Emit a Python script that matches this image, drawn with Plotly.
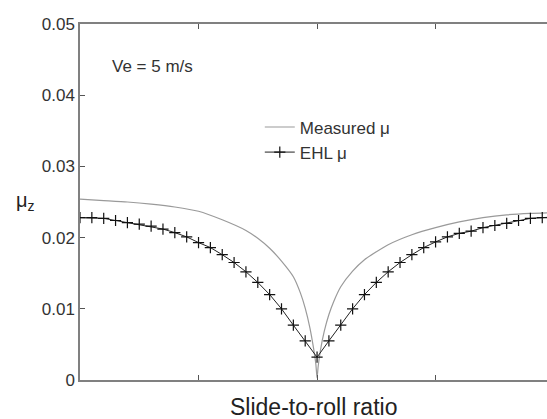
import plotly.graph_objects as go

# Measured friction coefficient
meas_x = [-1.0, -0.9, -0.8, -0.7, -0.6, -0.5, -0.4, -0.3, -0.25, -0.2, -0.15, -0.1,
          -0.07, -0.05, -0.03, -0.015, -0.005, 0.0, 0.005, 0.015, 0.03, 0.05, 0.07,
          0.1, 0.15, 0.2, 0.25, 0.3, 0.4, 0.5, 0.6, 0.7, 0.8, 0.9, 1.0]
meas_y = [0.0254, 0.0252, 0.0250, 0.0247, 0.0243, 0.0237, 0.0225, 0.0210, 0.0199, 0.0185,
          0.0167, 0.0145, 0.0122, 0.0101, 0.0073, 0.0045, 0.0022, 0.0003, 0.0020, 0.0043,
          0.0068, 0.0092, 0.0110, 0.0131, 0.0153, 0.0169, 0.0180, 0.0190, 0.0204, 0.0214,
          0.0222, 0.0228, 0.0232, 0.0234, 0.0235]

# EHL friction coefficient
ehl_x = [-1.0, -0.95, -0.9, -0.85, -0.8, -0.75, -0.7, -0.65, -0.6, -0.55, -0.5, -0.45,
         -0.4, -0.35, -0.3, -0.25, -0.2, -0.15, -0.1, -0.05, 0.0, 0.05, 0.1, 0.15, 0.2,
         0.25, 0.3, 0.35, 0.4, 0.45, 0.5, 0.55, 0.6, 0.65, 0.7, 0.75, 0.8, 0.85, 0.9,
         0.95, 1.0]
ehl_y = [0.0228, 0.0228, 0.0227, 0.0224, 0.0221, 0.0219, 0.0216, 0.0212, 0.0207, 0.0201,
         0.0193, 0.0186, 0.0176, 0.0165, 0.0152, 0.0137, 0.0120, 0.0100, 0.0077, 0.0055,
         0.0032, 0.0055, 0.0077, 0.0100, 0.0120, 0.0137, 0.0152, 0.0165, 0.0176, 0.0186,
         0.0194, 0.0201, 0.0206, 0.0209, 0.0214, 0.0217, 0.0220, 0.0224, 0.0227, 0.0228,
         0.0229]

y_ticks = [0, 0.01, 0.02, 0.03, 0.04, 0.05]
y_tick_labels = ["0", "0.01", "0.02", "0.03", "0.04", "0.05"]

FONT = "Liberation Sans, Arial, sans-serif"

fig = go.Figure()
fig.add_trace(go.Scatter(
    x=meas_x, y=meas_y, mode="lines", name="Measured \u03bc",
    line=dict(color="#9a9a9a", width=1.2, shape="spline", smoothing=0.6),
))
fig.add_trace(go.Scatter(
    x=ehl_x, y=ehl_y, mode="lines+markers", name="EHL \u03bc",
    line=dict(color="#222222", width=1),
    marker=dict(symbol="cross-thin", size=8, line=dict(color="#111111", width=1.2)),
))

fig.update_layout(
    width=547, height=419,
    margin=dict(l=80, r=0, t=24, b=39),
    paper_bgcolor="white", plot_bgcolor="white",
    font=dict(family=FONT, size=17, color="#333333"),
    showlegend=True,
    legend=dict(x=0.385, y=0.76, xanchor="left", yanchor="top",
                bgcolor="rgba(0,0,0,0)", borderwidth=0,
                font=dict(size=17, color="#333333"), tracegroupgap=0),
    xaxis=dict(range=[-1, 0.97], showgrid=False, zeroline=False,
               showline=True, linecolor="#808080", linewidth=1.5, mirror="ticks",
               ticks="inside", ticklen=5, tickcolor="#555555", dtick=0.5, tick0=0,
               showticklabels=False),
    yaxis=dict(range=[0, 0.05], showgrid=False, zeroline=False,
               showline=True, linecolor="#808080", linewidth=1.5, mirror=False,
               ticks="inside", ticklen=5, tickcolor="#555555",
               tickvals=y_ticks, ticktext=y_tick_labels,
               tickfont=dict(size=17, color="#333333")),
    annotations=[
        dict(text="Slide-to-roll ratio", xref="paper", yref="paper",
             x=(313 - 80) / 467, y=(380 - 407) / 356, xanchor="center", yanchor="middle",
             showarrow=False, font=dict(size=23, color="#222222")),
        dict(text="\u03bc<sub>z</sub>", xref="paper", yref="paper",
             x=(25 - 80) / 467, y=(380 - 201) / 356, xanchor="center", yanchor="middle",
             showarrow=False, font=dict(size=20, color="#222222")),
        dict(text="Ve = 5 m/s", xref="x", yref="y",
             x=-0.874, y=0.0441, xanchor="left", yanchor="middle",
             showarrow=False, font=dict(size=17, color="#333333")),
    ],
)

fig.write_html("out.html", config={"displayModeBar": False},
               post_script="document.body.style.margin='0px';document.body.style.overflow='hidden';")
